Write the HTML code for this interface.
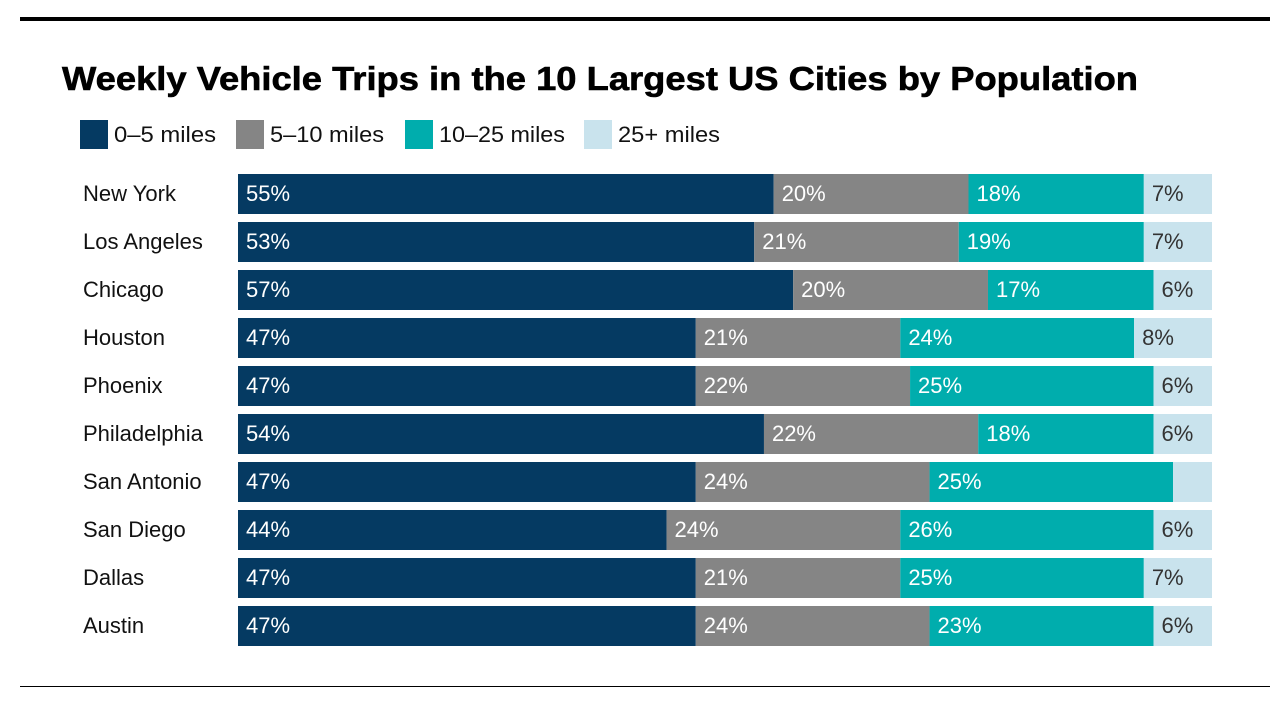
<!DOCTYPE html>
<html><head><meta charset="utf-8"><style>
html,body{margin:0;padding:0;background:#fff;width:1288px;height:706px;overflow:hidden}
svg{display:block;font-family:"Liberation Sans",sans-serif}
</style></head><body>
<svg id="chart" width="1288" height="706">
<rect x="20" y="17" width="1250" height="4" fill="#000"/>
<text x="62" y="90" font-family="Liberation Sans, sans-serif" font-weight="bold" font-size="33" textLength="1076" lengthAdjust="spacingAndGlyphs" fill="#000" stroke="#000" stroke-width="0.6">Weekly Vehicle Trips in the 10 Largest US Cities by Population</text>
<g id="legend"></g>
<g id="bars"></g>
<rect x="20" y="686" width="1250" height="1" fill="#000"/>
</svg>
<script>
const cities=["New York","Los Angeles","Chicago","Houston","Phoenix","Philadelphia","San Antonio","San Diego","Dallas","Austin"];
const series=["0–5 miles","5–10 miles","10–25 miles","25+ miles"];
const s0=[55,53,57,47,47,54,47,44,47,47];
const s1=[20,21,20,21,22,22,24,24,21,24];
const s2=[18,19,17,24,25,18,25,26,25,23];
const s3=[7,7,6,8,6,6,4,6,7,6];
const showLabel3=[true,true,true,true,true,true,false,true,true,true];
const colors=["#053a62","#858585","#00adad","#c9e3ed"];
const txtColors=["#fff","#fff","#fff","#333"];
const NS="http://www.w3.org/2000/svg";
const x0=238, fullW=974, y0=174, pitch=48, barH=40;
function xs(v){return v/100*fullW;}
function ys(i){return y0+i*pitch;}
function mk(tag,attrs,parent){const e=document.createElementNS(NS,tag);for(const k in attrs)e.setAttribute(k,attrs[k]);parent.appendChild(e);return e;}
const lg=document.getElementById('legend');
const lx=[80,236,405,584];
const lw=[102,114,126,102];
series.forEach((s,i)=>{
  const r=mk('rect',{x:lx[i],y:120,width:28,height:29,fill:colors[i]},lg);
  
  
  const t=mk('text',{x:lx[i]+34,y:142,'font-size':22,fill:'#111',textLength:lw[i],lengthAdjust:'spacingAndGlyphs'},lg);
  t.textContent=s;
  
  
});
const bg=document.getElementById('bars');
const all=[s0,s1,s2,s3];
cities.forEach((c,i)=>{
  const y=ys(i);
  const ct=mk('text',{x:83,y:y+27,'font-size':22,fill:'#111'},bg);
  ct.textContent=c;
  
  
  let acc=0;
  all.forEach((arr,k)=>{
    const v=arr[i];
    const r=mk('rect',{x:x0+xs(acc),y:y,width:xs(v),height:barH,fill:colors[k]},bg);
    
    
    if(k<3||showLabel3[i]){
      const t=mk('text',{x:x0+xs(acc)+8,y:y+27,'font-size':22,fill:txtColors[k]},bg);
      t.textContent=v+'%';
      
      
    }
    acc+=v;
  });
});
</script>
</body></html>
